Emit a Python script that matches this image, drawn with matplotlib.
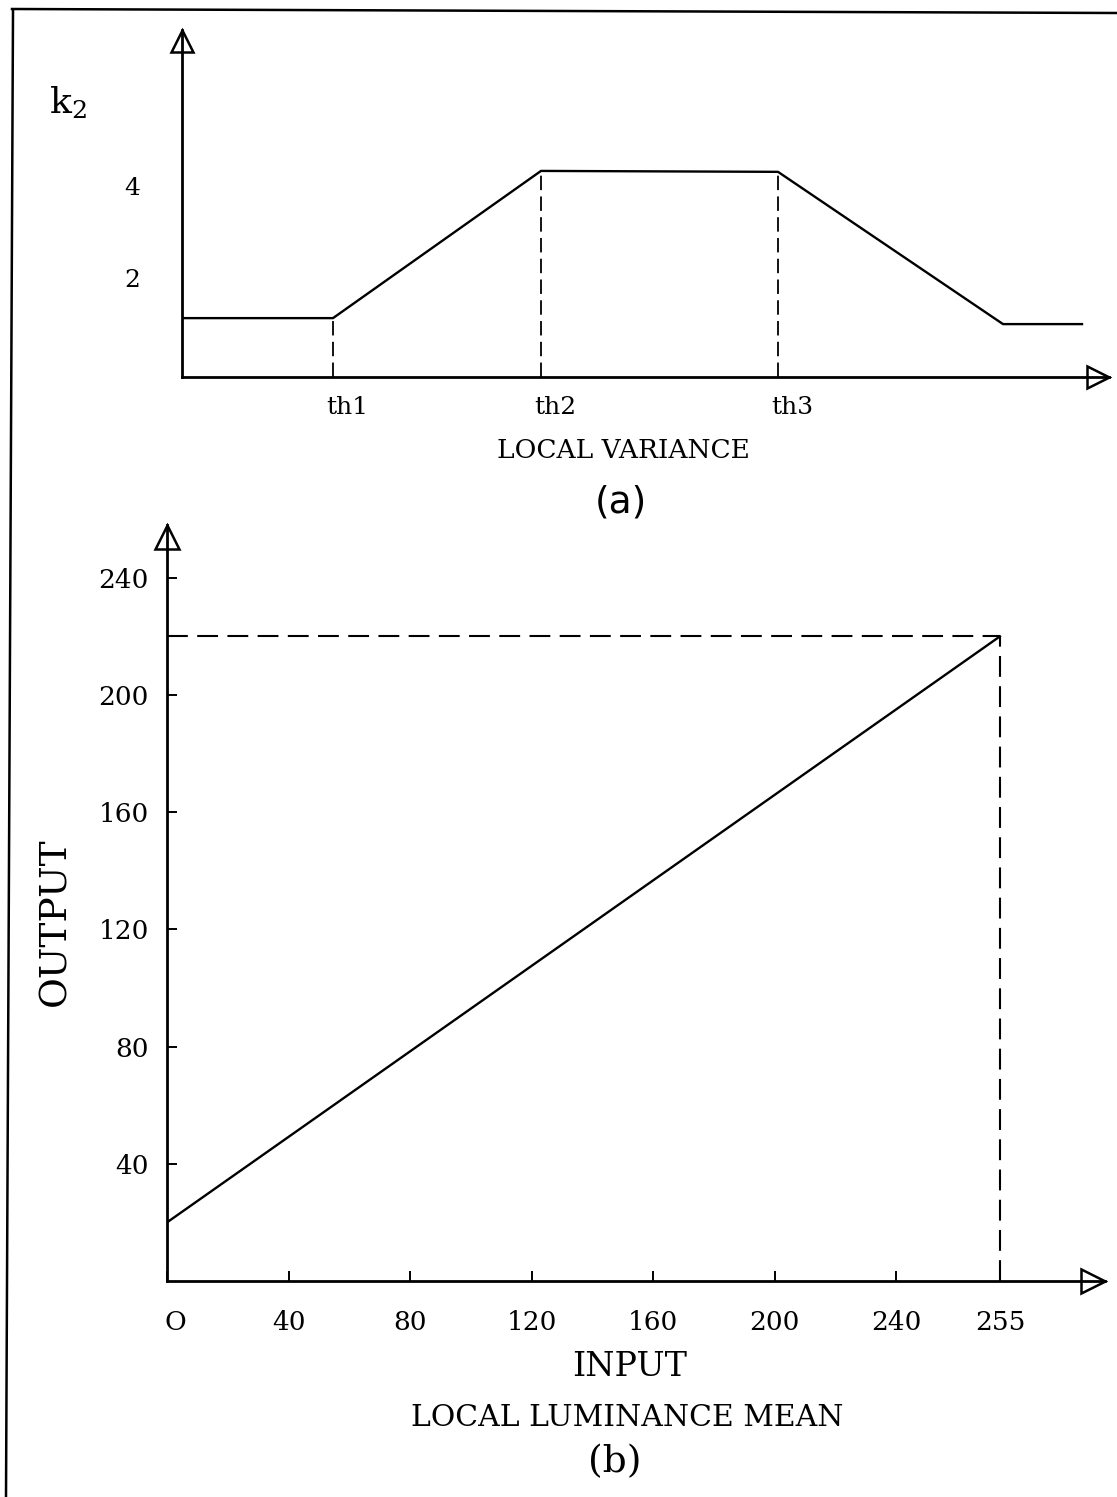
import numpy as np
import matplotlib
matplotlib.use("Agg")
import matplotlib.pyplot as plt
from matplotlib.lines import Line2D
from matplotlib.transforms import offset_copy, ScaledTranslation

# (a) k2 against local variance (arbitrary variance units)
var_pts = [0.0, 1.51, 3.59, 5.96, 8.21, 9.00]
k2_pts = [1.28, 1.28, 4.48, 4.46, 1.15, 1.15]
th_pos = [1.51, 3.59, 5.96]
k2_at_th = [1.28, 4.48, 4.46]
th_labels = ["th1", "th2", "th3"]
k2_ticks = [2, 4]

# (b) output against input (local luminance mean)
lum_in = [0, 255]
lum_out = [20, 220]
in_ticks = [0, 40, 80, 120, 160, 200, 240, 255]
in_labels = ["O", "40", "80", "120", "160", "200", "240", "255"]
out_ticks = [40, 80, 120, 160, 200, 240]

plt.rcParams["font.family"] = "DejaVu Serif"
plt.rcParams["mathtext.fontset"] = "dejavuserif"

W, H = 1117, 1497
fig = plt.figure(figsize=(W / 100, H / 100), dpi=100)


def fx(px):
    return px / W


def fy(py):
    return 1 - py / H


def shift(dx, dy):
    return ScaledTranslation(dx / 100, dy / 100, fig.dpi_scale_trans)


def arrow_heads(ax, ms):
    up = offset_copy(ax.transAxes, fig=fig, x=0, y=-ms / 2, units="points")
    right = offset_copy(ax.transAxes, fig=fig, x=-ms / 2, y=0, units="points")
    ax.plot([0], [1], marker="^", ms=ms, mfc="none", mec="black", mew=1.8,
            transform=up, clip_on=False)
    ax.plot([1], [0], marker=">", ms=ms, mfc="none", mec="black", mew=1.8,
            transform=right, clip_on=False)


# frame of the scanned page
fig.add_artist(Line2D([fx(13), fx(6)], [fy(11), fy(H)], color="black", lw=1.8))
fig.add_artist(Line2D([fx(12), fx(W)], [fy(9), fy(13)], color="black", lw=1.8))

# ---- panel (a)
ax1 = fig.add_axes([fx(182), fy(377), fx(1109) - fx(182), fy(30) - fy(377)])
ax1.plot(var_pts, k2_pts, color="black", lw=1.7)
for t, k in zip(th_pos, k2_at_th):
    ax1.plot([t, t], [0, k], color="black", lw=1.3, ls=(0, (8, 3.5)))
ax1.set_xlim(0, 9.27)
ax1.set_ylim(0, 347 / 46)
ax1.set_xticks(th_pos)
ax1.set_xticklabels(th_labels, fontsize=18)
ax1.set_yticks(k2_ticks)
ax1.set_yticklabels([str(v) for v in k2_ticks], fontsize=18)
ax1.tick_params(length=0)
ax1.tick_params(axis="x", pad=14)
ax1.tick_params(axis="y", pad=30)
for lab in ax1.get_xticklabels():
    lab.set_transform(lab.get_transform() + shift(14, 0))
for lab in ax1.get_yticklabels():
    lab.set_transform(lab.get_transform() + shift(0, 7))
for s in ["top", "right"]:
    ax1.spines[s].set_visible(False)
for s in ["left", "bottom"]:
    ax1.spines[s].set_linewidth(2.0)
arrow_heads(ax1, 16.5)

fig.text(fx(68), fy(103), r"k$_2$", fontsize=26, ha="center", va="center")
fig.text(fx(623), fy(451), "LOCAL VARIANCE", fontsize=19,
         ha="center", va="center")
fig.text(fx(621), fy(502), "(a)", fontsize=27, family="DejaVu Sans",
         ha="center", va="center")

# ---- panel (b)
ax2 = fig.add_axes([fx(167), fy(1281), fx(1105) - fx(167), fy(525) - fy(1281)])


def fwd(x):
    return np.interp(x, [-1000, 240, 255, 1000], [-1000, 240, 274.2, 1019.2])


def inv(x):
    return np.interp(x, [-1000, 240, 274.2, 1019.2], [-1000, 240, 255, 1000])


ax2.set_xscale("function", functions=(fwd, inv))
ax2.plot(lum_in, lum_out, color="black", lw=1.7)
ax2.plot([0, lum_in[1]], [lum_out[1], lum_out[1]], color="black", lw=1.5, ls=(0, (10, 4.5)))
ax2.plot([lum_in[1], lum_in[1]], [0, lum_out[1]], color="black", lw=1.5, ls=(0, (10, 4.5)))
ax2.set_xlim(0, 289.6)
ax2.set_ylim(0, 756 / 2.93)
ax2.set_xticks(in_ticks)
ax2.set_xticklabels(in_labels, fontsize=19)
ax2.set_yticks(out_ticks)
ax2.set_yticklabels([str(v) for v in out_ticks], fontsize=19)
ax2.tick_params(direction="in", length=7, width=1.4)
ax2.tick_params(axis="x", pad=21)
ax2.tick_params(axis="y", pad=13)
ax2.get_xticklabels()[0].set_transform(ax2.get_xticklabels()[0].get_transform() + shift(8, 0))
for s in ["top", "right"]:
    ax2.spines[s].set_visible(False)
for s in ["left", "bottom"]:
    ax2.spines[s].set_linewidth(2.0)
arrow_heads(ax2, 17.5)

fig.text(fx(55), fy(922), "OUTPUT", fontsize=27, rotation=90, ha="center", va="center")
fig.text(fx(630), fy(1367), "INPUT", fontsize=24, ha="center", va="center")
fig.text(fx(627), fy(1418), "LOCAL LUMINANCE MEAN", fontsize=21.5, ha="center", va="center")
fig.text(fx(615), fy(1462), "(b)", fontsize=27, ha="center", va="center")

fig.savefig("out.png", dpi=100)
